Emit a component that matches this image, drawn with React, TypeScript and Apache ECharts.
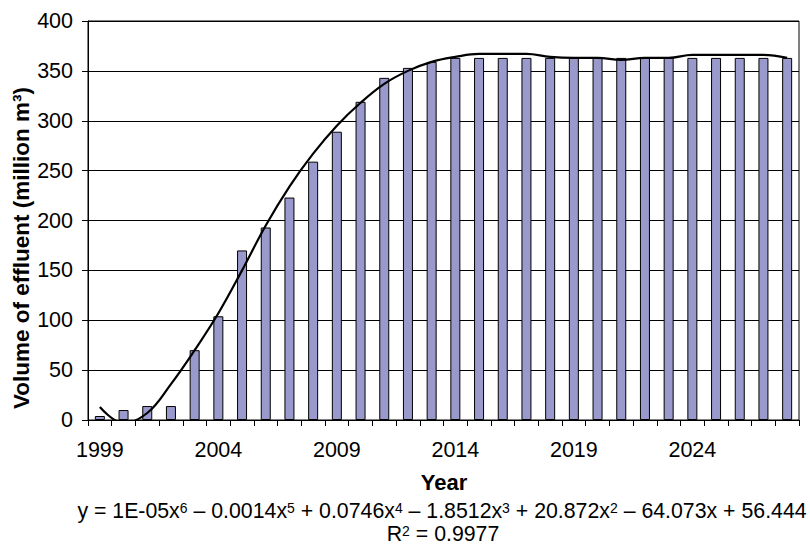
import React, { useEffect, useRef } from "react";
import * as echarts from "echarts";

// Years on the category axis
const years: string[] = [];
for (let y = 1999; y <= 2028; y++) years.push(String(y));

// Annual effluent volume (million m³)
const volume = [
  4, 10, 14, 14, 70, 104, 170, 193, 223, 259,
  289, 319, 343, 353, 359, 363, 363, 363, 363, 363,
  363, 363, 363, 363, 363, 363, 363, 363, 363, 363,
];

// Fitted 6th-order polynomial trend
const trend = [
  13, -3, 7, 36, 70, 107, 150, 195, 234, 267,
  295, 318, 337, 350, 359, 364, 367, 367, 367, 364,
  363, 363, 361, 363, 363, 366, 366, 366, 366, 363,
];

const yTicks = { min: 0, max: 400, interval: 50 };

const FONT = "'Liberation Sans', Arial, Helvetica, sans-serif";

export default function App() {
  const ref = useRef<HTMLDivElement>(null);

  useEffect(() => {
    if (!ref.current) return;
    const chart = echarts.init(ref.current, undefined, { renderer: "svg" });
    chart.setOption({
      animation: false,
      backgroundColor: "#ffffff",
      grid: {
        left: 88,
        right: 11,
        top: 21,
        bottom: 129,
        show: true,
        borderColor: "#000",
        borderWidth: 1,
      },
      xAxis: {
        type: "category",
        data: years,
        boundaryGap: true,
        axisLine: { lineStyle: { color: "#000", width: 1 } },
        axisTick: {
          show: true,
          interval: 0,
          length: 6,
          lineStyle: { color: "#000", width: 1 },
        },
        axisLabel: {
          interval: 4,
          fontSize: 21.5,
          fontFamily: FONT,
          color: "#000",
          margin: 19,
        },
        splitLine: { show: false },
      },
      yAxis: {
        type: "value",
        min: yTicks.min,
        max: yTicks.max,
        interval: yTicks.interval,
        axisLine: { show: true, lineStyle: { color: "#000", width: 1 } },
        axisTick: { show: true, length: 6, lineStyle: { color: "#000", width: 1 } },
        axisLabel: {
          fontSize: 21.5,
          fontFamily: FONT,
          color: "#000",
          margin: 15,
        },
        splitLine: { show: true, lineStyle: { color: "#000", width: 1 } },
      },
      series: [
        {
          type: "bar",
          data: volume,
          barWidth: 10,
          itemStyle: { color: "#9999CC", borderColor: "#000", borderWidth: 1 },
          z: 2,
        },
        {
          type: "line",
          data: trend,
          smooth: 0.4,
          showSymbol: false,
          symbol: "none",
          lineStyle: { color: "#000", width: 2.2 },
          z: 3,
        },
      ],
      graphic: [
        {
          type: "text",
          x: 21,
          y: 248,
          rotation: Math.PI / 2,
          style: {
            text: "Volume of effluent (million m³)",
            font: `bold 22.5px ${FONT}`,
            fill: "#000",
            align: "center",
            verticalAlign: "middle",
          },
        },
        {
          type: "text",
          x: 444,
          y: 482,
          style: {
            text: "Year",
            font: `bold 22px ${FONT}`,
            fill: "#000",
            align: "center",
            verticalAlign: "middle",
          },
        },
        {
          type: "text",
          x: 442,
          y: 511,
          style: {
            text:
              "y = 1E-05x{s|6} – 0.0014x{s|5} + 0.0746x{s|4} – 1.8512x{s|3} + 20.872x{s|2} – 64.073x + 56.444",
            fontSize: 21.3,
            fontFamily: FONT,
            fill: "#000",
            align: "center",
            verticalAlign: "middle",
            rich: {
              s: { fontSize: 14, fontFamily: FONT, verticalAlign: "top", fill: "#000" },
            },
          },
        },
        {
          type: "text",
          x: 443,
          y: 534,
          style: {
            text: "R{s|2} = 0.9977",
            fontSize: 21.3,
            fontFamily: FONT,
            fill: "#000",
            align: "center",
            verticalAlign: "middle",
            rich: {
              s: { fontSize: 14, fontFamily: FONT, verticalAlign: "top", fill: "#000" },
            },
          },
        },
      ],
    });
    return () => chart.dispose();
  }, []);

  return (
    <div
      ref={ref}
      style={{ position: "fixed", left: 0, top: 0, width: 810, height: 549 }}
    />
  );
}
